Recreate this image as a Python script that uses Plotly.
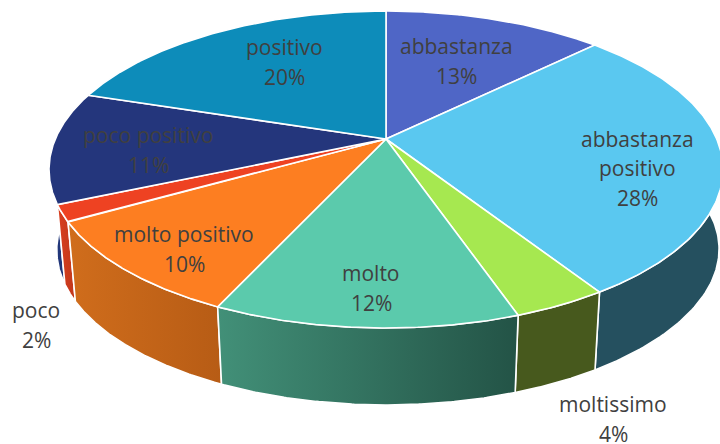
import numpy as np
import plotly.graph_objects as go

# Data
categories = ["abbastanza", "abbastanza positivo", "moltissimo", "molto",
              "molto positivo", "poco", "poco positivo", "positivo"]
values = [12.7, 28.2, 3.8, 12.2, 9.9, 1.7, 11.4, 20.1]

# Styles
top_colors = ["#4F66C6", "#5AC8F0", "#A6E850", "#5BCAAC",
              "#FD7E21", "#EE4222", "#24367C", "#0D8CBA"]
side_left = ["#2F3D77", "#25505F", "#47591D", "#429078",
             "#D06D1C", "#D93F1F", "#23397F", "#085470"]
side_right = ["#2F3D77", "#25505F", "#47591D", "#235346",
              "#B75C15", "#C0371B", "#1C2D66", "#085470"]

# Label layout (pixel centres of each text block), by category
label_cx = [456, 637, 613, 371, 184, 36, 148, 284]
label_cy = [61, 168, 419, 288, 249, 325, 150, 62]
label_lines = [["abbastanza"], ["abbastanza", "positivo"], ["moltissimo"], ["molto"],
               ["molto positivo"], ["poco"], ["poco positivo"], ["positivo"]]
LINE_H = 29.5

# Projection of the disc onto the page
CX, CY = 386.0, 139.0
R, S, P = 330.7, 152.6, 0.1925
SHRINK, BOTTOM_CY = 0.977, 220.3


def rim(t):
    """Top-face rim; t is clockwise from 12 o'clock, radians."""
    X, Y = np.sin(t), np.cos(t)
    w = 1 + P * Y
    return CX + R * X / w, CY - S * Y / w


def lower(t):
    x, y = rim(t)
    # the right-hand wall is slightly wider than the left-hand one
    sx = SHRINK + 0.012 * np.clip(np.sin(t), 0, 1) ** 3
    return CX + (x - CX) * sx, BOTTOM_CY + (y - CY) * SHRINK


total = sum(values)
edges = 2 * np.pi * np.cumsum([0] + values) / total
WHITE = dict(color="white", width=1.6)
fig = go.Figure()

# Side walls, back to front
order = sorted(range(len(values)), key=lambda i: -np.cos((edges[i] + edges[i + 1]) / 2))
for i in order:
    t = np.linspace(edges[i], edges[i + 1], 120)
    x, y = rim(t)
    xb, yb = lower(t)
    fig.add_trace(go.Scatter(
        x=np.r_[x, xb[::-1], x[0]], y=np.r_[y, yb[::-1], y[0]],
        mode="lines", line=WHITE, fill="toself",
        fillgradient=dict(type="horizontal",
                          colorscale=[[0, side_left[i]], [1, side_right[i]]]),
        hoverinfo="skip", showlegend=False))

# Top face
for i in range(len(values)):
    t = np.linspace(edges[i], edges[i + 1], 160)
    x, y = rim(t)
    fig.add_trace(go.Scatter(
        x=np.r_[CX, x, CX], y=np.r_[CY, y, CY],
        mode="lines", line=WHITE, fill="toself", fillcolor=top_colors[i],
        hoverinfo="text", text=f"{categories[i]} {round(values[i])}%", showlegend=False))

# Labels
for i in range(len(values)):
    lines = label_lines[i] + [f"{round(values[i])}%"]
    for j, s in enumerate(lines):
        fig.add_annotation(x=label_cx[i], y=label_cy[i] + (j - (len(lines) - 1) / 2) * LINE_H,
                           text=s, showarrow=False, xanchor="center", yanchor="middle",
                           font=dict(family="Open Sans", size=21, color="#404040"))

fig.update_layout(
    width=720, height=444, margin=dict(l=0, r=0, t=0, b=0),
    paper_bgcolor="white", plot_bgcolor="white",
    xaxis=dict(range=[0, 720], visible=False, fixedrange=True),
    yaxis=dict(range=[444, 0], visible=False, fixedrange=True),
)
fig.write_html("out.html", config=dict(displayModeBar=False),
               post_script="document.body.style.margin='0';document.body.style.overflow='hidden';")
